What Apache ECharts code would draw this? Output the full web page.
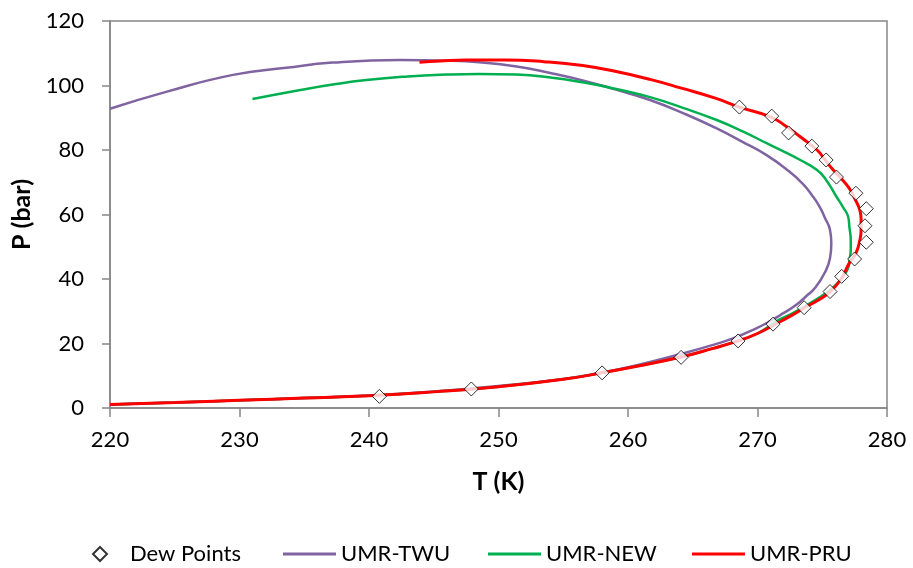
<!DOCTYPE html>
<html>
<head>
<meta charset="utf-8">
<script src="https://cdn.jsdelivr.net/npm/echarts@6/dist/echarts.min.js"></script>
<style>
  html, body { margin: 0; padding: 0; background: #ffffff; }
  #chart { width: 913px; height: 568px; }
</style>
</head>
<body>
<div id="chart"></div>
<script>
// Measured dew points of the mixture
const dewT = [240.8, 247.9, 258.0, 264.1, 268.5, 271.2, 273.6, 275.6, 276.5, 277.5, 278.4, 278.3, 278.4, 277.6, 276.1, 275.3, 274.2, 272.4, 271.1, 268.6];
const dewP = [3.6, 5.9, 10.9, 15.7, 20.8, 26.0, 31.1, 36.1, 40.8, 46.2, 51.4, 56.5, 61.8, 66.6, 71.6, 76.9, 81.2, 85.3, 90.5, 93.3];

// UMR-TWU phase envelope
const twuT = [220, 225, 230, 235, 240, 245, 250, 255, 258, 261, 264.3, 266.5, 268.1, 269.9, 271.0, 272.0, 273.0, 273.8, 274.5, 275.2, 275.6, 275.7, 275.6, 275.2, 274.8, 274.2, 273.5, 272.4, 270.7, 268.8, 266.85, 264.5, 261.7, 259.0, 256.5, 254.0, 251.4, 248.5, 246.0, 242.4, 237.2, 233.6, 229.5, 224.4, 220.0];
const twuP = [1.1, 1.7, 2.4, 3.1, 3.9, 5.1, 6.8, 9.0, 11.0, 13.6, 17.0, 19.5, 21.6, 24.7, 27.0, 29.4, 32.0, 34.8, 37.5, 42.0, 46.5, 51.1, 55.2, 59.0, 62.4, 66.0, 69.5, 73.5, 78.4, 82.6, 86.7, 91.0, 95.5, 98.8, 101.6, 103.9, 105.9, 107.2, 107.7, 107.9, 107.1, 105.5, 103.3, 98.1, 92.8];

// UMR-NEW phase envelope
const newT = [220, 225, 230, 235, 240, 245, 250, 255, 258, 261, 264.1, 266.5, 268.5, 270.0, 271.5, 272.8, 273.8, 274.8, 275.6, 276.2, 276.6, 277.0, 277.1, 277.2, 277.2, 277.1, 277.0, 276.6, 276.1, 275.3, 274.6, 273.3, 272.0, 270.7, 268.9, 266.85, 264.3, 261.7, 259.0, 256.5, 254.0, 251.4, 248.5, 246.0, 243.0, 239.8, 237.2, 234.7, 231.0];
const newP = [1.1, 1.7, 2.4, 3.1, 3.8, 5.0, 6.6, 8.9, 10.9, 13.2, 15.8, 18.4, 20.8, 23.1, 27.0, 29.6, 31.9, 34.3, 36.6, 38.8, 40.7, 43.5, 45.9, 49.0, 52.1, 56.0, 59.3, 62.3, 65.5, 70.7, 73.8, 76.9, 79.6, 82.1, 85.7, 89.3, 93.0, 96.4, 99.0, 101.0, 102.5, 103.4, 103.6, 103.4, 102.8, 101.7, 100.3, 98.6, 95.8];

// UMR-PRU phase envelope
const pruT = [220, 225, 230, 235, 240, 245, 250, 255, 258, 261, 264.1, 266.5, 268.5, 270, 271.3, 272.5, 273.6, 274.7, 275.6, 276.4, 277.1, 277.6, 277.9, 278.0, 278.0, 277.9, 277.5, 277.1, 276.5, 275.8, 275.2, 274.6, 273.3, 272.2, 271.0, 268.6, 266.8, 264.2, 261.7, 259.0, 256.5, 253.5, 250.5, 247.5, 245.5, 243.9];
const pruP = [1.1, 1.7, 2.4, 3.1, 3.8, 5.0, 6.6, 8.9, 10.9, 13.2, 15.8, 18.4, 20.8, 23.1, 25.8, 28.4, 31.0, 33.5, 36.0, 39.7, 45.0, 48.0, 52.0, 55.2, 58.5, 61.4, 65.0, 68.0, 71.0, 74.0, 77.0, 80.0, 84.1, 87.4, 90.3, 93.3, 96.0, 99.1, 101.9, 104.4, 106.2, 107.4, 107.9, 107.9, 107.6, 107.2];

const xAxisRange = { min: 220, max: 280, interval: 10 };
const yAxisRange = { min: 0, max: 120, interval: 20 };

const zip = (xs, ys) => xs.map((x, i) => [x, ys[i]]);

const FONT = 'Lato';
const AXIS_GRAY = '#868686';

const lineSeries = (name, xs, ys, color, width) => ({
  name: name,
  type: 'line',
  data: zip(xs, ys),
  smooth: 0.5,
  showSymbol: false,
  symbol: 'none',
  lineStyle: { color: color, width: width },
  itemStyle: { color: color },
  z: 2
});

const legendItem = (name, left, icon, w, h, padLeft) => ({
  data: [{ name: name, icon: icon }],
  left: left,
  top: 538,
  itemWidth: w,
  itemHeight: h,
  textStyle: { fontFamily: FONT, fontSize: 22, color: '#000', padding: [0, 0, 0, padLeft] },
  selectedMode: false
});

const chart = echarts.init(document.getElementById('chart'), null, { renderer: 'canvas' });

chart.setOption({
  backgroundColor: '#ffffff',
  animation: false,
  grid: {
    left: 110, right: 26, top: 21, bottom: 160,
    show: true, borderColor: AXIS_GRAY, borderWidth: 1.5, backgroundColor: 'transparent'
  },
  legend: [
    legendItem('Dew Points', 87, 'diamond', 14, 14, 18),
    legendItem('UMR-TWU', 278, 'rect', 53, 3, 0),
    legendItem('UMR-NEW', 483, 'rect', 53, 3, 0),
    legendItem('UMR-PRU', 687, 'rect', 53, 3, 0)
  ],
  xAxis: {
    type: 'value',
    min: xAxisRange.min, max: xAxisRange.max, interval: xAxisRange.interval,
    name: 'T (K)',
    nameLocation: 'middle',
    nameGap: 61,
    nameTextStyle: { fontFamily: FONT, fontSize: 25, fontWeight: 'bold', color: '#000' },
    axisLine: { show: true, lineStyle: { color: AXIS_GRAY, width: 1.5 } },
    axisTick: { show: true, length: 9, lineStyle: { color: AXIS_GRAY, width: 1.5 } },
    axisLabel: { fontFamily: FONT, fontSize: 22, color: '#000', margin: 21 },
    splitLine: { show: false }
  },
  yAxis: {
    type: 'value',
    min: yAxisRange.min, max: yAxisRange.max, interval: yAxisRange.interval,
    name: 'P (bar)',
    nameLocation: 'middle',
    nameGap: 70,
    nameTextStyle: { fontFamily: FONT, fontSize: 25, fontWeight: 'bold', color: '#000' },
    axisLine: { show: true, lineStyle: { color: AXIS_GRAY, width: 1.5 } },
    axisTick: { show: true, length: 8, lineStyle: { color: AXIS_GRAY, width: 1.5 } },
    axisLabel: { fontFamily: FONT, fontSize: 22, color: '#000', margin: 26 },
    splitLine: { show: false }
  },
  series: [
    lineSeries('UMR-TWU', twuT, twuP, '#8064A2', 2.5),
    lineSeries('UMR-NEW', newT, newP, '#00B050', 2.5),
    lineSeries('UMR-PRU', pruT, pruP, '#FF0000', 3),
    {
      name: 'Dew Points',
      type: 'scatter',
      data: zip(dewT, dewP),
      symbol: 'diamond',
      symbolSize: 14,
      itemStyle: { color: '#ffffff', borderColor: '#000000', borderWidth: 1 },
      z: 5
    }
  ]
});
</script>
</body>
</html>
